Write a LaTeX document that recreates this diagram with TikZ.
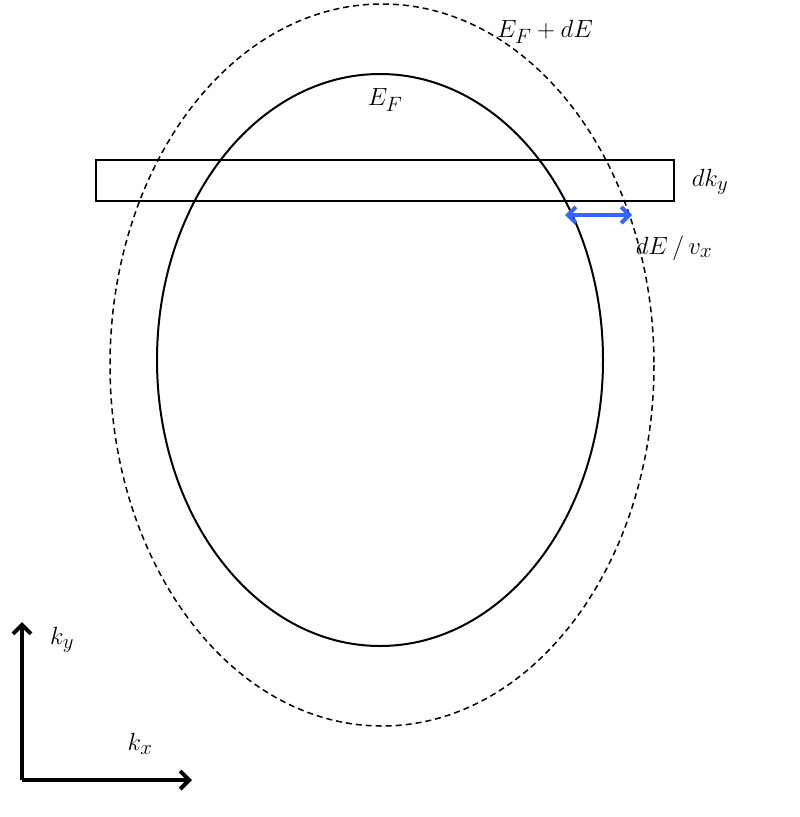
\documentclass[tikz,border=0pt]{standalone}
\usetikzlibrary{arrows.meta}
\begin{document}
\begin{tikzpicture}[x=1pt,y=-1pt,
  lbl/.style={inner sep=0pt,font=\fontsize{30}{30}\selectfont},
  axis/.style={line width=4pt,-{Straight Barb[length=9pt,width=18pt,line width=4pt]}}]
\useasboundingbox (0,0) rectangle (800,817);
\draw[line width=1.5pt,dashed,dash pattern=on 6pt off 4pt] (382,365) ellipse [x radius=272, y radius=361];
\draw[line width=2pt] (380,360) ellipse [x radius=223, y radius=286];
\draw[line width=1.8pt] (96,160) rectangle (674,201);
\coordinate (a1) at (565,215);
\coordinate (a2) at (632,215);
\draw[line width=4pt,color={rgb,255:red,51;green,102;blue,255},{Straight Barb[length=8pt,width=16pt]}-{Straight Barb[length=8pt,width=16pt]}] (a1) -- (a2);
\node[lbl] (l1) at (545,32) {$E_F+dE$};
\node[lbl] (l2) at (385,100) {$E_F$};
\node[lbl] (l3) at (710,182) {$dk_y$};
\node[lbl] (l4) at (674,248) {$dE\,/\,v_x$};
\node[lbl] (l5) at (62,640) {$k_y$};
\node[lbl] (l6) at (140,744) {$k_x$};
\coordinate (o) at (22,780);
\coordinate (yt) at (22,622);
\coordinate (xt) at (192,780);
\draw[axis] (o) -- (yt);
\draw[axis] (o) -- (xt);
\end{tikzpicture}
\end{document}
